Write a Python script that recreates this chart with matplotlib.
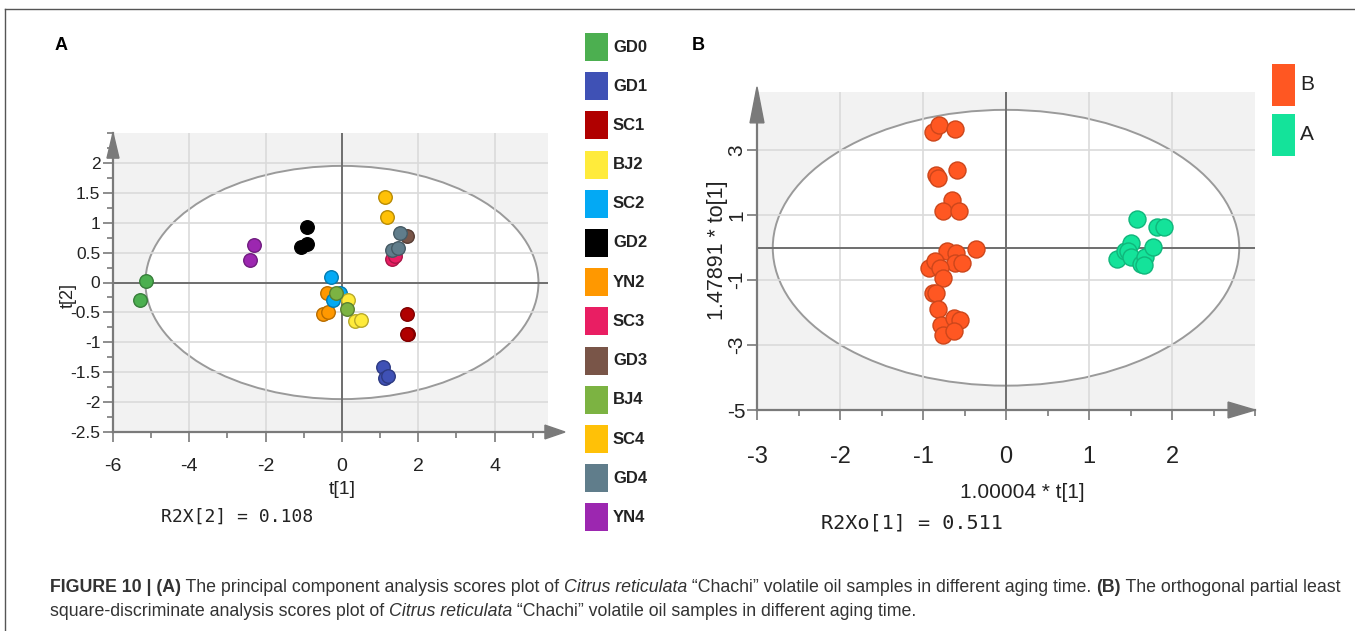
import matplotlib
matplotlib.use("Agg")
import matplotlib.pyplot as plt
import numpy as np
from matplotlib.patches import Ellipse, Rectangle, Polygon
from matplotlib.lines import Line2D
from matplotlib.colors import to_rgb
from matplotlib.ticker import MultipleLocator, FixedLocator

W, H = 1355, 631

# ---------------- data ----------------
groups_A = ["GD0", "GD1", "SC1", "BJ2", "SC2", "GD2", "YN2", "SC3", "GD3", "BJ4", "SC4", "GD4", "YN4"]
colors_A = ["#4caf50", "#3f51b5", "#b00000", "#ffeb3b", "#03a9f4", "#000000", "#ff9800",
            "#e91e63", "#795548", "#7cb342", "#ffc107", "#607d8b", "#9c27b0"]
t1_A = {
    "GD0": [-5.14, -5.30],
    "GD1": [1.08, 1.13, 1.21],
    "SC1": [1.71, 1.73, 1.71],
    "BJ2": [0.15, 0.34, 0.50],
    "SC2": [-0.29, -0.05, -0.24],
    "GD2": [-0.92, -0.92, -1.08],
    "YN2": [-0.39, -0.50, -0.37],
    "SC3": [1.31, 1.39],
    "GD3": [1.71],
    "BJ4": [-0.16, 0.13],
    "SC4": [1.13, 1.18],
    "GD4": [1.52, 1.31, 1.47],
    "YN4": [-2.31, -2.41],
}
t2_A = {
    "GD0": [0.02, -0.29],
    "GD1": [-1.42, -1.60, -1.56],
    "SC1": [-0.52, -0.86, -0.86],
    "BJ2": [-0.30, -0.65, -0.62],
    "SC2": [0.10, -0.17, -0.30],
    "GD2": [0.92, 0.64, 0.59],
    "YN2": [-0.17, -0.52, -0.50],
    "SC3": [0.40, 0.45],
    "GD3": [0.77],
    "BJ4": [-0.17, -0.44],
    "SC4": [1.43, 1.09],
    "GD4": [0.82, 0.54, 0.57],
    "YN4": [0.62, 0.37],
}
plot_order_A = ["GD0", "YN4", "GD2", "YN2", "SC2", "BJ2", "BJ4", "SC4", "GD3", "SC3", "GD4", "SC1", "GD1"]

xticks_A = [-6, -4, -2, 0, 2, 4]
yticks_A = [2, 1.5, 1, 0.5, 0, -0.5, -1, -1.5, -2, -2.5]

groups_B = ["B", "A"]
colors_B = ["#ff5722", "#14e39a"]
t1_B = {
    "B": [-0.88, -0.81, -0.61, -0.84, -0.82, -0.59, -0.65, -0.76, -0.57, -0.36, -0.71, -0.60, -0.62,
          -0.53, -0.93, -0.86, -0.80, -0.76, -0.88, -0.84, -0.82, -0.78, -0.76, -0.63, -0.55, -0.63],
    "A": [1.58, 1.82, 1.90, 1.34, 1.43, 1.50, 1.47, 1.50, 1.63, 1.68, 1.77, 1.66],
}
to1_B = {
    "B": [3.57, 3.77, 3.66, 2.25, 2.15, 2.41, 1.46, 1.12, 1.12, -0.04, -0.11, -0.17, -0.47,
          -0.47, -0.63, -0.42, -0.63, -0.94, -1.38, -1.40, -1.89, -2.38, -2.69, -2.17, -2.24, -2.58],
    "A": [0.88, 0.64, 0.64, -0.35, -0.09, 0.14, -0.11, -0.27, -0.49, -0.27, 0.02, -0.52],
}
xticks_B = [-3, -2, -1, 0, 1, 2]
yticks_B = [3, 1, -1, -3, -5]

caption_line1 = [("FIGURE 10 | (A)", "bold", "normal"),
                 (" The principal component analysis scores plot of ", "normal", "normal"),
                 ("Citrus reticulata", "normal", "italic"),
                 (" \u201cChachi\u201d volatile oil samples in different aging time. ", "normal", "normal"),
                 ("(B)", "bold", "normal"),
                 (" The orthogonal partial least", "normal", "normal")]
caption_line2 = [("square-discriminate analysis scores plot of ", "normal", "normal"),
                 ("Citrus reticulata", "normal", "italic"),
                 (" \u201cChachi\u201d volatile oil samples in different aging time.", "normal", "normal")]

# ---------------- helpers ----------------
plt.rcParams["font.family"] = ["Liberation Sans", "DejaVu Sans"]

def darker(c, f=0.72):
    r, g, b = to_rgb(c)
    return (r * f, g * f, b * f)

def fx(px):
    return px / W

def fy(py):
    return 1 - py / H

fig = plt.figure(figsize=(W / 100, H / 100), dpi=100)
fig.patch.set_facecolor("white")

# outer frame (top and left edges visible)
fig.add_artist(Line2D([fx(5), fx(1355)], [fy(9), fy(9)], transform=fig.transFigure, color="#555555", lw=1.0))
fig.add_artist(Line2D([fx(5), fx(5)], [fy(9), fy(631)], transform=fig.transFigure, color="#555555", lw=1.0))

AX_COL = "#7a7a7a"
BG = "#f2f2f2"
GRID = "#dadada"

def style_axes(ax):
    ax.set_facecolor(BG)
    for s in ["top", "right"]:
        ax.spines[s].set_visible(False)
    for s in ["left", "bottom"]:
        ax.spines[s].set_color(AX_COL)
        ax.spines[s].set_linewidth(1.6)
        ax.spines[s].set_zorder(6)
    ax.tick_params(which="both", color=AX_COL, width=1.2, direction="out")
    ax.tick_params(which="major", length=7)
    ax.tick_params(which="minor", length=4)

def arrows(ax, xtip, xbase, xh, ytip, ybase, yw):
    ax.add_patch(Polygon([[xtip, 0], [xbase, xh], [xbase, -xh]], closed=True, transform=ax.transAxes,
                         clip_on=False, facecolor=AX_COL, edgecolor=AX_COL, zorder=7))
    ax.add_patch(Polygon([[0, ytip], [yw, ybase], [-yw, ybase]], closed=True, transform=ax.transAxes,
                         clip_on=False, facecolor=AX_COL, edgecolor=AX_COL, zorder=7))

# ---------------- Panel A ----------------
axA = fig.add_axes([fx(113), fy(432), fx(548) - fx(113), fy(133) - fy(432)])
style_axes(axA)
axA.set_xlim(-6, 5.4)
axA.set_ylim(-2.5, 2.5)
axA.add_patch(Ellipse((0, 0), 10.3, 3.9, facecolor="white", edgecolor="#9a9a9a", lw=1.4, zorder=1))
for gx in [-4, -2, 2, 4]:
    axA.axvline(gx, color=GRID, lw=1.2, zorder=2)
for gy in [-2, -1.5, -1, -0.5, 0.5, 1, 1.5, 2]:
    axA.axhline(gy, color=GRID, lw=1.2, zorder=2)
axA.axhline(0, color="#6e6e6e", lw=1.4, zorder=3)
axA.axvline(0, color="#6e6e6e", lw=1.4, zorder=3)
for g in plot_order_A:
    c = colors_A[groups_A.index(g)]
    axA.scatter(t1_A[g], t2_A[g], s=95, facecolor=c, edgecolor=darker(c), linewidth=1.0, zorder=5)
axA.xaxis.set_major_locator(FixedLocator(xticks_A))
axA.xaxis.set_minor_locator(MultipleLocator(1))
axA.yaxis.set_major_locator(FixedLocator(yticks_A))
axA.yaxis.set_minor_locator(MultipleLocator(0.25))
axA.set_xticklabels([str(v) for v in xticks_A], fontsize=14, color="#222222")
axA.set_yticklabels([("%g" % v) for v in yticks_A], fontsize=12.5, color="#222222")
axA.tick_params(axis="x", pad=12)
axA.tick_params(axis="y", pad=2)
arrows(axA, 1.039, 0.993, 0.023, 1.0, 0.916, 0.0138)

fig.text(fx(68), fy(295), "t[2]", rotation=90, ha="center", va="center", fontsize=13, color="#222222")
fig.text(fx(342), fy(490), "t[1]", ha="center", va="center", fontsize=14, color="#222222")
fig.text(fx(237), fy(517), "R2X[2] = 0.108", ha="center", va="center", fontsize=13,
         family="DejaVu Sans Mono", color="#222222")
fig.text(fx(55), fy(46), "A", ha="left", va="center", fontsize=13, fontweight="bold", color="black")

# legend A
for i, (g, c) in enumerate(zip(groups_A, colors_A)):
    yc = 47 + i * 39.2
    fig.add_artist(Rectangle((fx(585), fy(yc + 14)), fx(23), fy(0) - fy(28),
                             transform=fig.transFigure, facecolor=c, edgecolor="none"))
    fig.text(fx(613), fy(yc), g, ha="left", va="center", fontsize=12, fontweight="bold",
             color="#222222")

# ---------------- Panel B ----------------
axB = fig.add_axes([fx(757), fy(410), fx(1255) - fx(757), fy(92) - fy(410)])
style_axes(axB)
axB.set_xlim(-3, 3)
axB.set_ylim(-5, 4.8)
axB.add_patch(Ellipse((0, 0), 5.62, 8.5, facecolor="white", edgecolor="#9a9a9a", lw=1.4, zorder=1))
for gx in [-2, -1, 1, 2]:
    axB.axvline(gx, color=GRID, lw=1.2, zorder=2)
for gy in [3, 1, -1, -3]:
    axB.axhline(gy, color=GRID, lw=1.2, zorder=2)
axB.axhline(0, color="#6e6e6e", lw=1.4, zorder=3)
axB.axvline(0, color="#6e6e6e", lw=1.4, zorder=3)
for g, c in zip(groups_B, colors_B):
    axB.scatter(t1_B[g], to1_B[g], s=150, facecolor=c, edgecolor=darker(c, 0.8), linewidth=1.0, zorder=5)
axB.xaxis.set_major_locator(FixedLocator(xticks_B))
axB.xaxis.set_minor_locator(MultipleLocator(0.5))
axB.yaxis.set_major_locator(FixedLocator(yticks_B))
axB.set_xticklabels([str(v) for v in xticks_B], fontsize=17, color="#222222")
labsB = axB.set_yticklabels([str(v) for v in yticks_B], fontsize=15, color="#222222")
for v, lab in zip(yticks_B, labsB):
    if v != -5:
        lab.set_rotation(90)
        lab.set_va("center")
axB.tick_params(axis="x", pad=19)
axB.tick_params(axis="y", pad=1)
arrows(axB, 1.0, 0.946, 0.025, 1.016, 0.903, 0.014)

fig.text(fx(717), fy(250), "1.47891 * to[1]", rotation=90, ha="center", va="center", fontsize=15.5,
         color="#222222")
fig.text(fx(1022), fy(492), "1.00004 * t[1]", ha="center", va="center", fontsize=15, color="#222222")
fig.text(fx(912), fy(523), "R2Xo[1] = 0.511", ha="center", va="center", fontsize=14.5,
         family="DejaVu Sans Mono", color="#222222")
fig.text(fx(692), fy(46), "B", ha="left", va="center", fontsize=13, fontweight="bold", color="black")

# legend B
for i, (g, c) in enumerate(zip(groups_B, colors_B)):
    yc = 85 + i * 50
    fig.add_artist(Rectangle((fx(1272), fy(yc + 21)), fx(23), fy(0) - fy(42),
                             transform=fig.transFigure, facecolor=c, edgecolor="none"))
    fig.text(fx(1300), fy(yc), g, ha="left", va="center", fontsize=15, color="#222222")

# ---------------- caption ----------------
fig.canvas.draw()
renderer = fig.canvas.get_renderer()

def rich(x_px, y_px, segs, size):
    x = x_px
    for txt, wt, st in segs:
        t = fig.text(fx(x), fy(y_px), txt, ha="left", va="center", fontsize=size, fontweight=wt,
                     fontstyle=st, color="#333333")
        bb = t.get_window_extent(renderer)
        x += bb.width

rich(50, 588, caption_line1, 12.75)
rich(50, 612, caption_line2, 12.75)

fig.savefig("out.png", dpi=100)
